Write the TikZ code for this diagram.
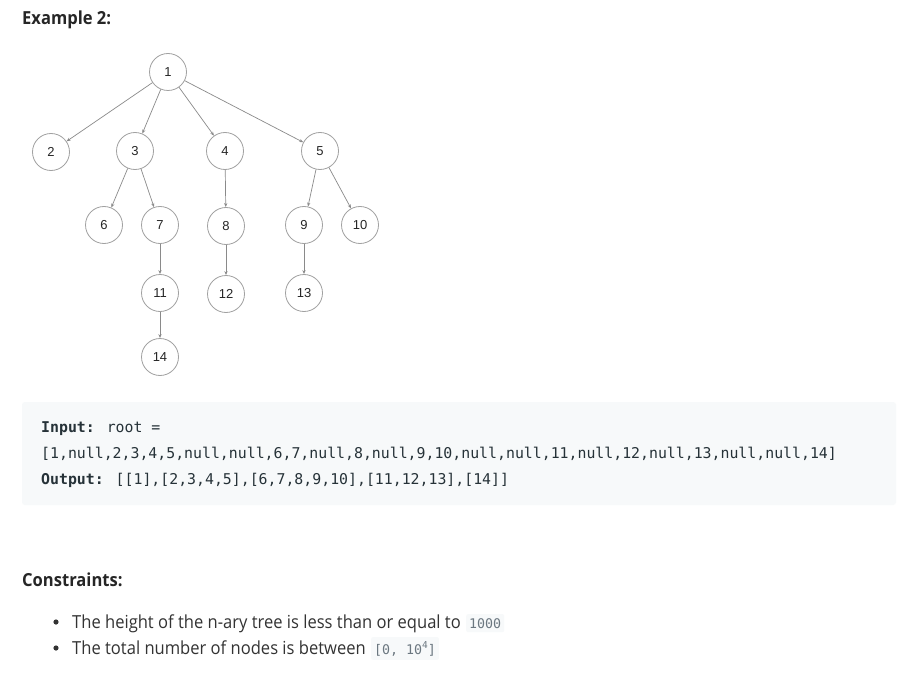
\documentclass[tikz,border=0pt]{standalone}
\usepackage{fontspec}
\usepackage{xcolor}
\usetikzlibrary{positioning,arrows.meta,calc}
\setmainfont{Open Sans}[FakeStretch=0.92]
\newfontfamily\labelfont{Liberation Sans}
\newfontfamily\codefont{DejaVu Sans Mono}
\definecolor{heading}{HTML}{262626}
\definecolor{bodytext}{HTML}{333333}
\definecolor{codebg}{HTML}{F7F9FA}
\definecolor{codetext}{HTML}{263238}
\definecolor{inlinecode}{HTML}{6B7780}
\definecolor{edgegray}{HTML}{8A8A8A}

\begin{document}
\begin{tikzpicture}[x=1pt, y=-1pt, >={Stealth[length=4pt,width=3.2pt]},
    treenode/.style={circle, draw=edgegray!80, line width=0.8pt, minimum size=37pt, inner sep=0pt, font=\labelfont\fontsize{13}{15}\selectfont, text=black!85},
    edge/.style={->, draw=edgegray, line width=0.7pt},
    codeline/.style={anchor=base west, inner sep=0pt, text=codetext, font=\codefont\fontsize{14.85}{17}\selectfont},
    bodyline/.style={anchor=base west, inner sep=0pt, text=bodytext, font=\fontsize{18}{20}\selectfont},
    inlinebox/.style={fill=codebg, rounded corners=2pt, text=inlinecode, inner xsep=3pt, inner ysep=4pt, font=\codefont\fontsize{13.3}{15}\selectfont},
    headline/.style={anchor=base west, inner sep=0pt, text=heading, font=\bfseries\fontsize{18}{20}\selectfont}]

% Page size
\useasboundingbox[fill=white] (0, 0) rectangle (908, 682);

% Title
\node[headline] (title) at (22, 25) {Example 2:};

% Tree nodes
\foreach \n/\x/\y in {1/168/72, 2/51/152, 3/135/151, 4/225/151, 5/320/151,
                      6/104/225, 7/160/225, 8/226/226, 9/304/225, 10/360/225,
                      11/160/293, 12/226/294, 13/304/293, 14/160/357} {
    \node[treenode] (n\n) at (\x, \y) {\n};
}

% Parent to child edges
\foreach \a/\b in {1/2, 1/3, 1/4, 1/5, 3/6, 3/7, 4/8, 5/9, 5/10, 7/11, 8/12, 9/13, 11/14} {
    \draw[edge] (n\a) -- (n\b);
}

% Example box
\fill[codebg, rounded corners=3pt] (22, 402) rectangle (896, 505);
\node[codeline] (inputlbl) at (41, 432) {\textbf{Input:} root =};
\node[codeline] (inputarr) at (41, 458) {[1,null,2,3,4,5,null,null,6,7,null,8,null,9,10,null,null,11,null,12,null,13,null,null,14]};
\node[codeline] (output) at (41, 484) {\textbf{Output:} [[1],[2,3,4,5],[6,7,8,9,10],[11,12,13],[14]]};

% Constraints
\node[headline] (constr) at (22, 586) {Constraints:};
\foreach \y in {622, 648} {
    \fill[bodytext] (56, \y) circle (2.6);
}
\node[bodyline] (heightline) at (72, 628) {The height of the n-ary tree is less than or equal to};
\node[inlinebox, anchor=base west] (heightval) at ([xshift=5pt]heightline.base east) {1000};
\node[bodyline] (countline) at (72, 654) {The total number of nodes is between};
\node[inlinebox, anchor=base west] (countval) at ([xshift=5pt]countline.base east) {[0, 10\raisebox{0.45em}{\fontsize{9.5}{10}\selectfont 4}]};

\end{tikzpicture}
\end{document}
